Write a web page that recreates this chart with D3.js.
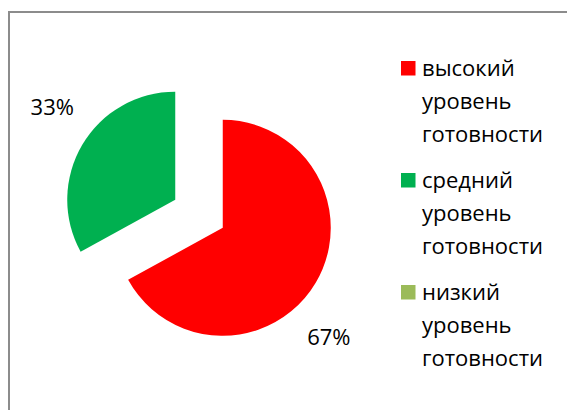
<!DOCTYPE html>
<html>
<head>
<meta charset="utf-8">
<script src="https://cdn.jsdelivr.net/npm/d3@7"></script>
<style>
    body { margin: 0; background: #fff; }
    svg { display: block; }
</style>
</head>
<body>
<div id="chart"></div>
<script>
// Chart data
const categories = ["высокий уровень готовности", "средний уровень готовности", "низкий уровень готовности"];
const values = [67, 33, 0];
const colors = ["#FF0000", "#00B050", "#9BBB59"];

const width = 567;
const height = 410;

const svg = d3.select("#chart").append("svg")
    .attr("width", width)
    .attr("height", height);

// chart area border (only left and top are visible)
svg.append("path")
    .attr("d", `M9,${height} V12 H${width}`)
    .attr("fill", "none")
    .attr("stroke", "#8c8c8c")
    .attr("stroke-width", 2);

// Pie
let cx = 199, cy = 213.75;
let radius = 108;
let explode = 27.6;

let pie = d3.pie().sort(null).value(d => d.value);
let arc = d3.arc().innerRadius(0).outerRadius(radius);

let data = categories.map((c, i) => ({ name: c, value: values[i], color: colors[i] }));
let arcs = pie(data);

let pieGroup = svg.append("g")
    .attr("transform", `translate(${cx}, ${cy})`);

function offset(d, dist) {
    let mid = (d.startAngle + d.endAngle) / 2;
    return [Math.sin(mid) * dist, -Math.cos(mid) * dist];
}

pieGroup.selectAll(".slice")
    .data(arcs.filter(d => d.value > 0))
    .join("path")
    .attr("class", "slice")
    .attr("transform", d => `translate(${offset(d, explode)})`)
    .attr("d", arc)
    .attr("fill", d => d.data.color);

// Percent labels (best-fit, a bit past the middle of the slice)
let total = d3.sum(values);
let labelR = 153;
pieGroup.selectAll(".pct")
    .data(arcs.filter(d => d.value > 0))
    .join("text")
    .attr("class", "pct")
    .attr("transform", d => {
        let [ox, oy] = offset(d, explode);
        let a = d.startAngle + 0.56 * (d.endAngle - d.startAngle);
        return `translate(${ox + Math.sin(a) * labelR - 2}, ${oy - Math.cos(a) * labelR + 1})`;
    })
    .attr("text-anchor", "middle")
    .attr("dy", "0.35em")
    .style("font-family", "'Open Sans', 'Noto Sans', sans-serif")
    .style("font-size", "22px")
    .style("fill", "#000")
    .text(d => Math.round(d.value / total * 100) + "%");

// Legend
let legendX = 401, legendY = 76;
let lineH = 33, groupH = 112;

let legend = svg.append("g");
let items = legend.selectAll(".item")
    .data(data)
    .join("g")
    .attr("class", "item")
    .attr("transform", (d, i) => `translate(${legendX}, ${legendY + i * groupH})`);

items.append("rect")
    .attr("x", 0)
    .attr("y", -15)
    .attr("width", 14.5)
    .attr("height", 14.5)
    .attr("fill", d => d.color);

items.append("text")
    .attr("x", 21)
    .style("font-family", "'Open Sans', 'Noto Sans', sans-serif")
    .style("font-size", "22px")
    .style("fill", "#000")
    .selectAll("tspan")
    .data(d => d.name.split(" "))
    .join("tspan")
    .attr("x", 21)
    .attr("y", (d, i) => i * lineH)
    .text(d => d);
</script>
</body>
</html>
